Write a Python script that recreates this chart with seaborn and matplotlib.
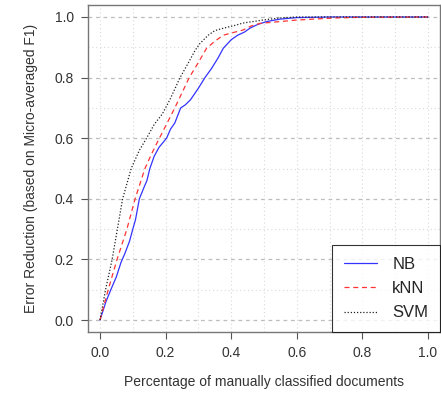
import numpy as np
import pandas as pd
import matplotlib
matplotlib.use("Agg")
import matplotlib.pyplot as plt
import seaborn as sns

nb_x = [0, 0.018, 0.033, 0.05, 0.064, 0.07, 0.076, 0.09, 0.1, 0.108, 0.12, 0.135, 0.143, 0.152,
        0.165, 0.18, 0.203, 0.215, 0.228, 0.246, 0.26, 0.276, 0.3, 0.32, 0.34, 0.36, 0.376,
        0.4, 0.42, 0.44, 0.457, 0.48, 0.508, 0.549, 0.6, 0.7, 1.0]
nb_y = [0, 0.06, 0.10, 0.143, 0.19, 0.205, 0.22, 0.26, 0.30, 0.33, 0.40, 0.44, 0.46, 0.50,
        0.54, 0.57, 0.60, 0.63, 0.65, 0.70, 0.71, 0.727, 0.765, 0.80, 0.83, 0.865, 0.897,
        0.925, 0.94, 0.95, 0.963, 0.975, 0.985, 0.993, 0.998, 1.0, 1.0]

knn_x = [0, 0.025, 0.052, 0.082, 0.107, 0.137, 0.158, 0.181, 0.2, 0.228, 0.24, 0.272,
         0.3, 0.325, 0.35, 0.376, 0.4, 0.436, 0.46, 0.488, 0.55, 0.6, 0.65, 0.72, 0.8, 1.0]
knn_y = [0, 0.10, 0.20, 0.30, 0.40, 0.50, 0.55, 0.60, 0.64, 0.70, 0.727, 0.80,
         0.85, 0.897, 0.92, 0.94, 0.947, 0.957, 0.97, 0.979, 0.985, 0.99, 0.993, 0.997, 0.999, 1.0]

svm_x = [0, 0.017, 0.037, 0.053, 0.069, 0.095, 0.12, 0.142, 0.165, 0.172, 0.19, 0.213, 0.244, 0.27,
         0.29, 0.305, 0.33, 0.35, 0.376, 0.41, 0.436, 0.497, 0.55, 0.6, 1.0]
svm_y = [0, 0.10, 0.20, 0.30, 0.40, 0.50, 0.56, 0.60, 0.645, 0.655, 0.68, 0.727, 0.80, 0.85,
         0.89, 0.913, 0.94, 0.955, 0.963, 0.972, 0.98, 0.99, 0.997, 1.0, 1.0]

series_names = ["NB", "kNN", "SVM"]
tick_vals = [0.0, 0.2, 0.4, 0.6, 0.8, 1.0]
tick_labels = ["0.0", "0.2", "0.4", "0.6", "0.8", "1.0"]

sns.set_style("white")
plt.rcParams["font.family"] = ["Liberation Sans", "DejaVu Sans"]

fig = plt.figure(figsize=(4.41, 3.94), dpi=100)
ax = fig.add_axes([88 / 441, 1 - 332 / 394, 352 / 441, 327 / 394])

# grid
for v in np.arange(0, 1.01, 0.1):
    ax.axvline(v, color="#d9d9d9", lw=0.8, ls=(0, (1, 2.5)), zorder=0)
for i, v in enumerate(np.arange(0, 1.01, 0.1)):
    if i % 2 == 0:
        ax.axhline(v, color="#bdbdbd", lw=0.9, ls=(0, (3, 3)), zorder=0)
    else:
        ax.axhline(v, color="#d9d9d9", lw=0.8, ls=(0, (1, 2.5)), zorder=0)

styles = [("#3333ff", "-"), ("#ff3333", (0, (4, 3))), ("#222222", (0, (1, 1.5)))]
data = [(nb_x, nb_y), (knn_x, knn_y), (svm_x, svm_y)]
for name, (xs, ys), (c, ls) in zip(series_names, data, styles):
    df = pd.DataFrame({"x": xs, "y": ys})
    sns.lineplot(data=df, x="x", y="y", ax=ax, color=c, lw=0.9, linestyle=ls, label=name,
                 estimator=None, sort=False)

ax.set_xlim(-0.0366, 1.0366)
ax.set_ylim(-0.0396, 1.0396)
ax.set_xticks(tick_vals)
ax.set_xticklabels(tick_labels)
ax.set_yticks(tick_vals)
ax.set_yticklabels(tick_labels)
ax.tick_params(axis="both", direction="out", length=5, width=0.8, color="#555555",
               labelsize=10, labelcolor="#333333", pad=5, bottom=True, left=True)
for s in ax.spines.values():
    s.set_color("#777777")
    s.set_linewidth(1.0)
    s.set_visible(True)

ax.set_xlabel("Percentage of manually classified documents", fontsize=10, color="#333333", labelpad=11)
ax.set_ylabel("Error Reduction (based on Micro-averaged F1)", fontsize=10, color="#333333", labelpad=12)

leg = ax.legend(loc="lower right", bbox_to_anchor=(1.0, 0.0), borderaxespad=0, fontsize=12,
                frameon=True, fancybox=False, handlelength=2.0, handletextpad=0.9,
                labelspacing=0.55, borderpad=0.7)
leg.get_frame().set_edgecolor("#000000")
leg.get_frame().set_linewidth(0.8)

fig.savefig("out.png", dpi=100)
